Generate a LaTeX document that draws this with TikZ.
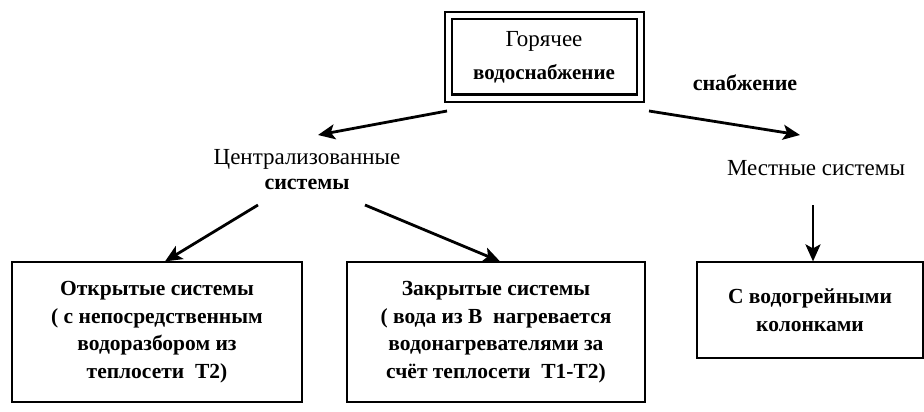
\documentclass[tikz,border=0pt]{standalone}
\usepackage{fontspec}
\setmainfont{Liberation Serif}
\usetikzlibrary{arrows.meta}

\begin{document}
\begin{tikzpicture}[x=1pt, y=-1pt]
  \tikzstyle{t} = [align=center, inner sep=2pt, font=\fontsize{23}{25}\selectfont];
  \tikzstyle{s} = [font=\bfseries\fontsize{22}{25}\selectfont];
  \tikzstyle{bx} = [draw, line width=1.2pt, align=center, inner sep=0pt,
  font=\bfseries\fontsize{21.5}{27.5}\selectfont];
  \tikzstyle{a} = [line width=2.8pt, -{Stealth[length=17pt, width=15pt, inset=4pt]}];

  \useasboundingbox (0,0) rectangle (924,412);

  \node[draw, double, line width=2pt, double distance=5pt, align=center,
  minimum width=192pt, minimum height=82pt] (top) at (544, 57)
  {\fontsize{23}{28}\selectfont Горячее\\[12pt]
   \bfseries\fontsize{21}{24}\selectfont водоснабжение};

  \node[s] (snab) at (745, 83) {снабжение};

  \node[t] (cent) at (307, 170)
  {Централизованные\\ {\bfseries\fontsize{22}{25}\selectfont системы}};
  \node[t] (loc) at (816, 168) {Местные системы};

  \node[bx, minimum width=290pt, minimum height=140pt] (open) at (157, 332)
  {Открытые системы\\( с непосредственным\\водоразбором из\\теплосети\ \ Т2)};
  \node[bx, minimum width=298pt, minimum height=140pt] (closed) at (496, 332)
  {Закрытые системы\\( вода из В\ \ нагревается\\водонагревателями\ за\\счёт теплосети\ \ Т1-Т2)};
  \node[bx, minimum width=226pt, minimum height=96pt] (kol) at (810, 310)
  {С водогрейными\\колонками};

  \draw[a] ([yshift=-12pt]top.south west) -- ([xshift=11pt, yshift=35pt]cent.center);
  \draw[a] ([xshift=8pt, yshift=-12pt]top.south east) -- ([xshift=-16pt, yshift=33pt]loc.center);

  \draw[a] ([xshift=-49pt, yshift=-35pt]cent.center) -- ([xshift=8pt]open.north);
  \draw[a] ([xshift=58pt, yshift=-35pt]cent.center) -- ([xshift=4pt]closed.north);
  \draw[a] ([xshift=-3pt, yshift=-37pt]loc.center) -- ([xshift=3pt]kol.north);
\end{tikzpicture}
\end{document}
